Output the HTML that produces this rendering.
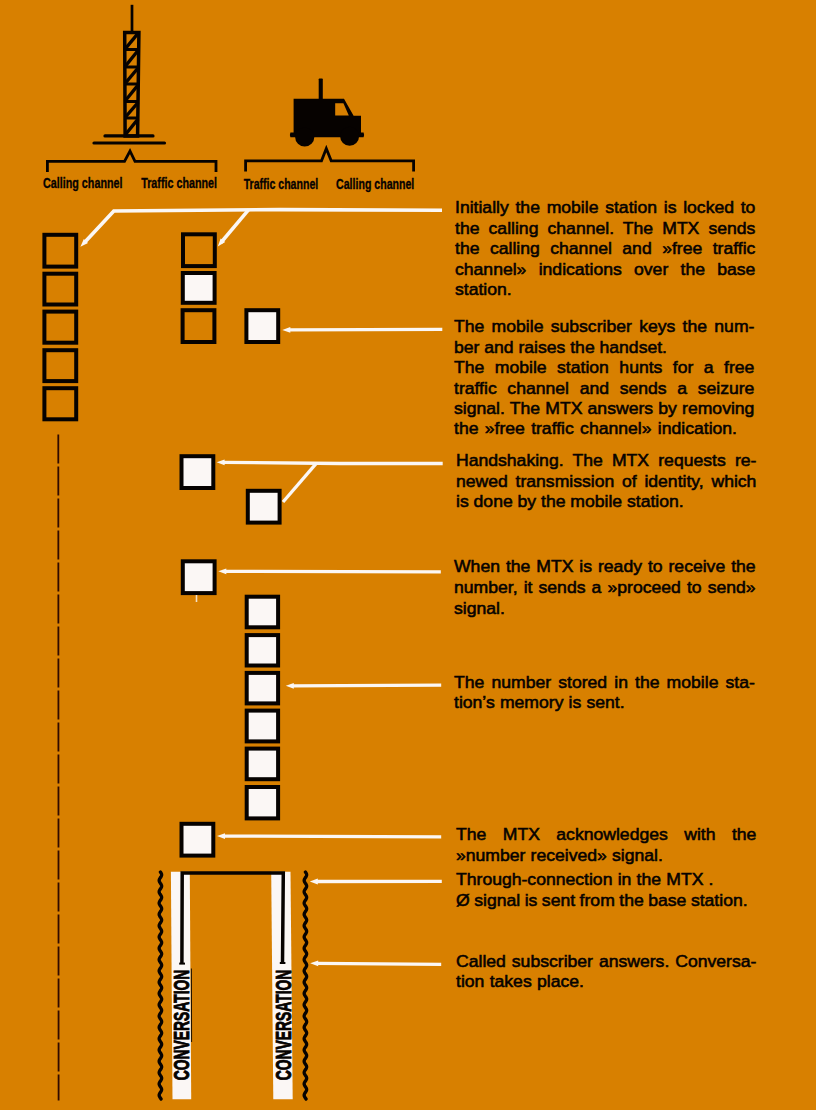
<!DOCTYPE html>
<html><head><meta charset="utf-8"><title>MTX call setup</title>
<style>
html,body{margin:0;padding:0;}
body{width:816px;height:1110px;background:#D88000;overflow:hidden;position:relative;font-family:"Liberation Sans",sans-serif;}
svg{position:absolute;left:0;top:0;}
.l{position:absolute;left:456.3px;font-size:16.4px;line-height:20px;height:20px;color:#060200;white-space:nowrap;transform:scaleX(1.073);transform-origin:0 0;-webkit-text-stroke:0.55px #060200;}
</style></head><body>
<svg width="816" height="1110" viewBox="0 0 816 1110">
<path d="M442.0 210.3 L280.0 209.6 L113.8 211.0 L84.5 242.5" fill="none" stroke="#FBF7F5" stroke-width="3.6" stroke-linejoin="miter"/>
<polygon points="80.4,246.8 88.0,243.0 83.8,239.0" fill="#FBF7F5"/>
<path d="M248.5 209.8 L221.0 242.5" fill="none" stroke="#FBF7F5" stroke-width="3.5" stroke-linejoin="miter"/>
<polygon points="217.8,246.4 225.2,242.1 220.7,238.4" fill="#FBF7F5"/>
<path d="M442.3 329.4 L289.3 329.9" fill="none" stroke="#FBF7F5" stroke-width="3.3" stroke-linejoin="miter"/><polygon points="282.3,329.9 290.3,332.8 290.3,327.0" fill="#FBF7F5"/>
<path d="M442.7 463.5 L340.0 463.5 L224.0 462.4" fill="none" stroke="#FBF7F5" stroke-width="3.3" stroke-linejoin="miter"/>
<polygon points="216.6,462.3 224.6,465.3 224.6,459.5" fill="#FBF7F5"/>
<path d="M316.3 463.3 L283.0 502.0" fill="none" stroke="#FBF7F5" stroke-width="3.3" stroke-linejoin="miter"/>
<path d="M440.8 571.8 L225.3 571.3" fill="none" stroke="#FBF7F5" stroke-width="3.3" stroke-linejoin="miter"/><polygon points="218.3,571.3 226.3,574.2 226.3,568.4" fill="#FBF7F5"/>
<path d="M441.2 685.2 L292.8 685.8" fill="none" stroke="#FBF7F5" stroke-width="3.3" stroke-linejoin="miter"/><polygon points="285.8,685.8 293.8,688.7 293.8,682.9" fill="#FBF7F5"/>
<path d="M441.2 836.9 L224.0 836.1" fill="none" stroke="#FBF7F5" stroke-width="3.3" stroke-linejoin="miter"/><polygon points="217.0,836.1 225.0,839.0 225.0,833.2" fill="#FBF7F5"/>
<path d="M441.8 881.3 L316.8 881.5" fill="none" stroke="#FBF7F5" stroke-width="3.3" stroke-linejoin="miter"/><polygon points="309.8,881.5 317.8,884.4 317.8,878.6" fill="#FBF7F5"/>
<path d="M441.2 964.3 L317.2 963.4" fill="none" stroke="#FBF7F5" stroke-width="3.3" stroke-linejoin="miter"/><polygon points="310.2,963.3 318.2,966.3 318.2,960.5" fill="#FBF7F5"/>
<rect x="44.40" y="234.80" width="31.80" height="31.80" fill="none" stroke="#060200" stroke-width="4.0"/>
<rect x="44.40" y="273.70" width="31.80" height="30.80" fill="none" stroke="#060200" stroke-width="4.0"/>
<rect x="44.40" y="311.60" width="31.80" height="31.10" fill="none" stroke="#060200" stroke-width="4.0"/>
<rect x="44.40" y="350.20" width="31.80" height="30.90" fill="none" stroke="#060200" stroke-width="4.0"/>
<rect x="44.40" y="388.20" width="31.80" height="31.10" fill="none" stroke="#060200" stroke-width="4.0"/>
<rect x="183.00" y="234.30" width="31.80" height="31.80" fill="none" stroke="#060200" stroke-width="4.0"/>
<rect x="182.80" y="273.00" width="31.80" height="29.80" fill="#FBF7F5" stroke="#060200" stroke-width="4.0"/>
<rect x="182.60" y="310.20" width="31.80" height="31.80" fill="none" stroke="#060200" stroke-width="4.0"/>
<rect x="246.40" y="310.20" width="31.80" height="31.80" fill="#FBF7F5" stroke="#060200" stroke-width="4.0"/>
<rect x="181.50" y="456.20" width="31.80" height="31.80" fill="#FBF7F5" stroke="#060200" stroke-width="4.0"/>
<rect x="247.80" y="490.80" width="31.80" height="31.80" fill="#FBF7F5" stroke="#060200" stroke-width="4.0"/>
<rect x="182.80" y="561.30" width="31.80" height="31.80" fill="#FBF7F5" stroke="#060200" stroke-width="4.0"/>
<rect x="246.70" y="596.70" width="31.40" height="30.60" fill="#FBF7F5" stroke="#060200" stroke-width="4.0"/>
<rect x="246.70" y="635.10" width="31.40" height="30.40" fill="#FBF7F5" stroke="#060200" stroke-width="4.0"/>
<rect x="246.70" y="672.90" width="31.40" height="30.50" fill="#FBF7F5" stroke="#060200" stroke-width="4.0"/>
<rect x="246.70" y="710.60" width="31.40" height="30.80" fill="#FBF7F5" stroke="#060200" stroke-width="4.0"/>
<rect x="246.70" y="748.60" width="31.40" height="30.60" fill="#FBF7F5" stroke="#060200" stroke-width="4.0"/>
<rect x="246.70" y="787.00" width="31.40" height="31.40" fill="#FBF7F5" stroke="#060200" stroke-width="4.0"/>
<line x1="196.5" y1="595" x2="196.5" y2="602" stroke="#FBF7F5" stroke-width="1.6" opacity="0.8"/>
<rect x="181.50" y="823.80" width="31.80" height="31.80" fill="#FBF7F5" stroke="#060200" stroke-width="4.0"/>
<line x1="58.3" y1="434.4" x2="58.6" y2="1100.5" stroke="#300a00" stroke-width="1.8" stroke-dasharray="29 3"/>
<polygon points="170.9,871.8 189.8,871.8 191.2,1099.3 172.5,1099.3" fill="#FBF7F5"/>
<polygon points="271.2,871.8 290.5,871.8 292.7,1099.3 273.3,1099.3" fill="#FBF7F5"/>
<path d="M181.9 964 L182.2 873 L283.3 873 L282.5 963" fill="none" stroke="#060200" stroke-width="3.5" stroke-linejoin="miter"/>
<line x1="179.2" y1="963.6" x2="185" y2="963.6" stroke="#060200" stroke-width="2"/>
<line x1="279.8" y1="963" x2="285.4" y2="963" stroke="#060200" stroke-width="2"/>
<path d="M160.40 872.0 L160.74 872.5 L161.06 873.0 L161.33 873.5 L161.52 874.0 L161.63 874.5 L161.64 875.0 L161.56 875.5 L161.39 876.0 L161.15 876.5 L160.84 877.0 L160.50 877.5 L160.16 878.0 L159.83 878.5 L159.55 879.0 L159.33 879.5 L159.19 880.0 L159.15 880.5 L159.20 881.0 L159.35 881.5 L159.57 882.0 L159.86 882.5 L160.19 883.0 L160.54 883.5 L160.87 884.0 L161.17 884.5 L161.41 885.0 L161.58 885.5 L161.65 886.0 L161.62 886.5 L161.50 887.0 L161.30 887.5 L161.03 888.0 L160.71 888.5 L160.37 889.0 L160.02 889.5 L159.71 890.0 L159.45 890.5 L159.26 891.0 L159.16 891.5 L159.16 892.0 L159.25 892.5 L159.43 893.0 L159.68 893.5 L159.99 894.0 L160.33 894.5 L160.68 895.0 L161.00 895.5 L161.28 896.0 L161.49 896.5 L161.62 897.0 L161.65 897.5 L161.59 898.0 L161.43 898.5 L161.20 899.0 L160.91 899.5 L160.57 900.0 L160.23 900.5 L159.89 901.0 L159.60 901.5 L159.37 902.0 L159.21 902.5 L159.15 903.0 L159.18 903.5 L159.31 904.0 L159.52 904.5 L159.80 905.0 L160.12 905.5 L160.47 906.0 L160.81 906.5 L161.12 907.0 L161.37 907.5 L161.55 908.0 L161.64 908.5 L161.64 909.0 L161.54 909.5 L161.35 910.0 L161.09 910.5 L160.78 911.0 L160.43 911.5 L160.09 912.0 L159.77 912.5 L159.50 913.0 L159.30 913.5 L159.18 914.0 L159.15 914.5 L159.22 915.0 L159.39 915.5 L159.63 916.0 L159.93 916.5 L160.26 917.0 L160.61 917.5 L160.94 918.0 L161.23 918.5 L161.45 919.0 L161.60 919.5 L161.65 920.0 L161.61 920.5 L161.47 921.0 L161.25 921.5 L160.97 922.0 L160.64 922.5 L160.30 923.0 L159.96 923.5 L159.65 924.0 L159.41 924.5 L159.24 925.0 L159.16 925.5 L159.17 926.0 L159.28 926.5 L159.47 927.0 L159.74 927.5 L160.06 928.0 L160.40 928.5 L160.74 929.0 L161.06 929.5 L161.33 930.0 L161.52 930.5 L161.63 931.0 L161.64 931.5 L161.56 932.0 L161.39 932.5 L161.15 933.0 L160.84 933.5 L160.50 934.0 L160.16 934.5 L159.83 935.0 L159.55 935.5 L159.33 936.0 L159.19 936.5 L159.15 937.0 L159.20 937.5 L159.35 938.0 L159.57 938.5 L159.86 939.0 L160.19 939.5 L160.54 940.0 L160.87 940.5 L161.17 941.0 L161.41 941.5 L161.58 942.0 L161.65 942.5 L161.62 943.0 L161.50 943.5 L161.30 944.0 L161.03 944.5 L160.71 945.0 L160.37 945.5 L160.02 946.0 L159.71 946.5 L159.45 947.0 L159.26 947.5 L159.16 948.0 L159.16 948.5 L159.25 949.0 L159.43 949.5 L159.68 950.0 L159.99 950.5 L160.33 951.0 L160.68 951.5 L161.00 952.0 L161.28 952.5 L161.49 953.0 L161.62 953.5 L161.65 954.0 L161.59 954.5 L161.43 955.0 L161.20 955.5 L160.91 956.0 L160.57 956.5 L160.23 957.0 L159.89 957.5 L159.60 958.0 L159.37 958.5 L159.21 959.0 L159.15 959.5 L159.18 960.0 L159.31 960.5 L159.52 961.0 L159.80 961.5 L160.12 962.0 L160.47 962.5 L160.81 963.0 L161.12 963.5 L161.37 964.0 L161.55 964.5 L161.64 965.0 L161.64 965.5 L161.54 966.0 L161.35 966.5 L161.09 967.0 L160.78 967.5 L160.43 968.0 L160.09 968.5 L159.77 969.0 L159.50 969.5 L159.30 970.0 L159.18 970.5 L159.15 971.0 L159.22 971.5 L159.39 972.0 L159.63 972.5 L159.93 973.0 L160.26 973.5 L160.61 974.0 L160.94 974.5 L161.23 975.0 L161.45 975.5 L161.60 976.0 L161.65 976.5 L161.61 977.0 L161.47 977.5 L161.25 978.0 L160.97 978.5 L160.64 979.0 L160.30 979.5 L159.96 980.0 L159.65 980.5 L159.41 981.0 L159.24 981.5 L159.16 982.0 L159.17 982.5 L159.28 983.0 L159.47 983.5 L159.74 984.0 L160.06 984.5 L160.40 985.0 L160.74 985.5 L161.06 986.0 L161.33 986.5 L161.52 987.0 L161.63 987.5 L161.64 988.0 L161.56 988.5 L161.39 989.0 L161.15 989.5 L160.84 990.0 L160.50 990.5 L160.16 991.0 L159.83 991.5 L159.55 992.0 L159.33 992.5 L159.19 993.0 L159.15 993.5 L159.20 994.0 L159.35 994.5 L159.57 995.0 L159.86 995.5 L160.19 996.0 L160.54 996.5 L160.87 997.0 L161.17 997.5 L161.41 998.0 L161.58 998.5 L161.65 999.0 L161.62 999.5 L161.50 1000.0 L161.30 1000.5 L161.03 1001.0 L160.71 1001.5 L160.37 1002.0 L160.02 1002.5 L159.71 1003.0 L159.45 1003.5 L159.26 1004.0 L159.16 1004.5 L159.16 1005.0 L159.25 1005.5 L159.43 1006.0 L159.68 1006.5 L159.99 1007.0 L160.33 1007.5 L160.68 1008.0 L161.00 1008.5 L161.28 1009.0 L161.49 1009.5 L161.62 1010.0 L161.65 1010.5 L161.59 1011.0 L161.43 1011.5 L161.20 1012.0 L160.91 1012.5 L160.57 1013.0 L160.23 1013.5 L159.89 1014.0 L159.60 1014.5 L159.37 1015.0 L159.21 1015.5 L159.15 1016.0 L159.18 1016.5 L159.31 1017.0 L159.52 1017.5 L159.80 1018.0 L160.12 1018.5 L160.47 1019.0 L160.81 1019.5 L161.12 1020.0 L161.37 1020.5 L161.55 1021.0 L161.64 1021.5 L161.64 1022.0 L161.54 1022.5 L161.35 1023.0 L161.09 1023.5 L160.78 1024.0 L160.43 1024.5 L160.09 1025.0 L159.77 1025.5 L159.50 1026.0 L159.30 1026.5 L159.18 1027.0 L159.15 1027.5 L159.22 1028.0 L159.39 1028.5 L159.63 1029.0 L159.93 1029.5 L160.26 1030.0 L160.61 1030.5 L160.94 1031.0 L161.23 1031.5 L161.45 1032.0 L161.60 1032.5 L161.65 1033.0 L161.61 1033.5 L161.47 1034.0 L161.25 1034.5 L160.97 1035.0 L160.64 1035.5 L160.30 1036.0 L159.96 1036.5 L159.65 1037.0 L159.41 1037.5 L159.24 1038.0 L159.16 1038.5 L159.17 1039.0 L159.28 1039.5 L159.47 1040.0 L159.74 1040.5 L160.06 1041.0 L160.40 1041.5 L160.74 1042.0 L161.06 1042.5 L161.33 1043.0 L161.52 1043.5 L161.63 1044.0 L161.64 1044.5 L161.56 1045.0 L161.39 1045.5 L161.15 1046.0 L160.84 1046.5 L160.50 1047.0 L160.16 1047.5 L159.83 1048.0 L159.55 1048.5 L159.33 1049.0 L159.19 1049.5 L159.15 1050.0 L159.20 1050.5 L159.35 1051.0 L159.57 1051.5 L159.86 1052.0 L160.19 1052.5 L160.54 1053.0 L160.87 1053.5 L161.17 1054.0 L161.41 1054.5 L161.58 1055.0 L161.65 1055.5 L161.62 1056.0 L161.50 1056.5 L161.30 1057.0 L161.03 1057.5 L160.71 1058.0 L160.37 1058.5 L160.02 1059.0 L159.71 1059.5 L159.45 1060.0 L159.26 1060.5 L159.16 1061.0 L159.16 1061.5 L159.25 1062.0 L159.43 1062.5 L159.68 1063.0 L159.99 1063.5 L160.33 1064.0 L160.68 1064.5 L161.00 1065.0 L161.28 1065.5 L161.49 1066.0 L161.62 1066.5 L161.65 1067.0 L161.59 1067.5 L161.43 1068.0 L161.20 1068.5 L160.91 1069.0 L160.57 1069.5 L160.23 1070.0 L159.89 1070.5 L159.60 1071.0 L159.37 1071.5 L159.21 1072.0 L159.15 1072.5 L159.18 1073.0 L159.31 1073.5 L159.52 1074.0 L159.80 1074.5 L160.12 1075.0 L160.47 1075.5 L160.81 1076.0 L161.12 1076.5 L161.37 1077.0 L161.55 1077.5 L161.64 1078.0 L161.64 1078.5 L161.54 1079.0 L161.35 1079.5 L161.09 1080.0 L160.78 1080.5 L160.43 1081.0 L160.09 1081.5 L159.77 1082.0 L159.50 1082.5 L159.30 1083.0 L159.18 1083.5 L159.15 1084.0 L159.22 1084.5 L159.39 1085.0 L159.63 1085.5 L159.93 1086.0 L160.26 1086.5 L160.61 1087.0 L160.94 1087.5 L161.23 1088.0 L161.45 1088.5 L161.60 1089.0 L161.65 1089.5 L161.61 1090.0 L161.47 1090.5 L161.25 1091.0 L160.97 1091.5 L160.64 1092.0 L160.30 1092.5 L159.96 1093.0 L159.65 1093.5 L159.41 1094.0 L159.24 1094.5 L159.16 1095.0 L159.17 1095.5 L159.28 1096.0 L159.47 1096.5 L159.74 1097.0 L160.06 1097.5 L160.40 1098.0 L160.74 1098.5 L161.06 1099.0" fill="none" stroke="#060200" stroke-width="3.3" stroke-linecap="round"/>
<path d="M305.40 872.0 L305.74 872.5 L306.06 873.0 L306.33 873.5 L306.52 874.0 L306.63 874.5 L306.64 875.0 L306.56 875.5 L306.39 876.0 L306.15 876.5 L305.84 877.0 L305.50 877.5 L305.16 878.0 L304.83 878.5 L304.55 879.0 L304.33 879.5 L304.19 880.0 L304.15 880.5 L304.20 881.0 L304.35 881.5 L304.57 882.0 L304.86 882.5 L305.19 883.0 L305.54 883.5 L305.87 884.0 L306.17 884.5 L306.41 885.0 L306.58 885.5 L306.65 886.0 L306.62 886.5 L306.50 887.0 L306.30 887.5 L306.03 888.0 L305.71 888.5 L305.37 889.0 L305.02 889.5 L304.71 890.0 L304.45 890.5 L304.26 891.0 L304.16 891.5 L304.16 892.0 L304.25 892.5 L304.43 893.0 L304.68 893.5 L304.99 894.0 L305.33 894.5 L305.68 895.0 L306.00 895.5 L306.28 896.0 L306.49 896.5 L306.62 897.0 L306.65 897.5 L306.59 898.0 L306.43 898.5 L306.20 899.0 L305.91 899.5 L305.57 900.0 L305.23 900.5 L304.89 901.0 L304.60 901.5 L304.37 902.0 L304.21 902.5 L304.15 903.0 L304.18 903.5 L304.31 904.0 L304.52 904.5 L304.80 905.0 L305.12 905.5 L305.47 906.0 L305.81 906.5 L306.12 907.0 L306.37 907.5 L306.55 908.0 L306.64 908.5 L306.64 909.0 L306.54 909.5 L306.35 910.0 L306.09 910.5 L305.78 911.0 L305.43 911.5 L305.09 912.0 L304.77 912.5 L304.50 913.0 L304.30 913.5 L304.18 914.0 L304.15 914.5 L304.22 915.0 L304.39 915.5 L304.63 916.0 L304.93 916.5 L305.26 917.0 L305.61 917.5 L305.94 918.0 L306.23 918.5 L306.45 919.0 L306.60 919.5 L306.65 920.0 L306.61 920.5 L306.47 921.0 L306.25 921.5 L305.97 922.0 L305.64 922.5 L305.30 923.0 L304.96 923.5 L304.65 924.0 L304.41 924.5 L304.24 925.0 L304.16 925.5 L304.17 926.0 L304.28 926.5 L304.47 927.0 L304.74 927.5 L305.06 928.0 L305.40 928.5 L305.74 929.0 L306.06 929.5 L306.33 930.0 L306.52 930.5 L306.63 931.0 L306.64 931.5 L306.56 932.0 L306.39 932.5 L306.15 933.0 L305.84 933.5 L305.50 934.0 L305.16 934.5 L304.83 935.0 L304.55 935.5 L304.33 936.0 L304.19 936.5 L304.15 937.0 L304.20 937.5 L304.35 938.0 L304.57 938.5 L304.86 939.0 L305.19 939.5 L305.54 940.0 L305.87 940.5 L306.17 941.0 L306.41 941.5 L306.58 942.0 L306.65 942.5 L306.62 943.0 L306.50 943.5 L306.30 944.0 L306.03 944.5 L305.71 945.0 L305.37 945.5 L305.02 946.0 L304.71 946.5 L304.45 947.0 L304.26 947.5 L304.16 948.0 L304.16 948.5 L304.25 949.0 L304.43 949.5 L304.68 950.0 L304.99 950.5 L305.33 951.0 L305.68 951.5 L306.00 952.0 L306.28 952.5 L306.49 953.0 L306.62 953.5 L306.65 954.0 L306.59 954.5 L306.43 955.0 L306.20 955.5 L305.91 956.0 L305.57 956.5 L305.23 957.0 L304.89 957.5 L304.60 958.0 L304.37 958.5 L304.21 959.0 L304.15 959.5 L304.18 960.0 L304.31 960.5 L304.52 961.0 L304.80 961.5 L305.12 962.0 L305.47 962.5 L305.81 963.0 L306.12 963.5 L306.37 964.0 L306.55 964.5 L306.64 965.0 L306.64 965.5 L306.54 966.0 L306.35 966.5 L306.09 967.0 L305.78 967.5 L305.43 968.0 L305.09 968.5 L304.77 969.0 L304.50 969.5 L304.30 970.0 L304.18 970.5 L304.15 971.0 L304.22 971.5 L304.39 972.0 L304.63 972.5 L304.93 973.0 L305.26 973.5 L305.61 974.0 L305.94 974.5 L306.23 975.0 L306.45 975.5 L306.60 976.0 L306.65 976.5 L306.61 977.0 L306.47 977.5 L306.25 978.0 L305.97 978.5 L305.64 979.0 L305.30 979.5 L304.96 980.0 L304.65 980.5 L304.41 981.0 L304.24 981.5 L304.16 982.0 L304.17 982.5 L304.28 983.0 L304.47 983.5 L304.74 984.0 L305.06 984.5 L305.40 985.0 L305.74 985.5 L306.06 986.0 L306.33 986.5 L306.52 987.0 L306.63 987.5 L306.64 988.0 L306.56 988.5 L306.39 989.0 L306.15 989.5 L305.84 990.0 L305.50 990.5 L305.16 991.0 L304.83 991.5 L304.55 992.0 L304.33 992.5 L304.19 993.0 L304.15 993.5 L304.20 994.0 L304.35 994.5 L304.57 995.0 L304.86 995.5 L305.19 996.0 L305.54 996.5 L305.87 997.0 L306.17 997.5 L306.41 998.0 L306.58 998.5 L306.65 999.0 L306.62 999.5 L306.50 1000.0 L306.30 1000.5 L306.03 1001.0 L305.71 1001.5 L305.37 1002.0 L305.02 1002.5 L304.71 1003.0 L304.45 1003.5 L304.26 1004.0 L304.16 1004.5 L304.16 1005.0 L304.25 1005.5 L304.43 1006.0 L304.68 1006.5 L304.99 1007.0 L305.33 1007.5 L305.68 1008.0 L306.00 1008.5 L306.28 1009.0 L306.49 1009.5 L306.62 1010.0 L306.65 1010.5 L306.59 1011.0 L306.43 1011.5 L306.20 1012.0 L305.91 1012.5 L305.57 1013.0 L305.23 1013.5 L304.89 1014.0 L304.60 1014.5 L304.37 1015.0 L304.21 1015.5 L304.15 1016.0 L304.18 1016.5 L304.31 1017.0 L304.52 1017.5 L304.80 1018.0 L305.12 1018.5 L305.47 1019.0 L305.81 1019.5 L306.12 1020.0 L306.37 1020.5 L306.55 1021.0 L306.64 1021.5 L306.64 1022.0 L306.54 1022.5 L306.35 1023.0 L306.09 1023.5 L305.78 1024.0 L305.43 1024.5 L305.09 1025.0 L304.77 1025.5 L304.50 1026.0 L304.30 1026.5 L304.18 1027.0 L304.15 1027.5 L304.22 1028.0 L304.39 1028.5 L304.63 1029.0 L304.93 1029.5 L305.26 1030.0 L305.61 1030.5 L305.94 1031.0 L306.23 1031.5 L306.45 1032.0 L306.60 1032.5 L306.65 1033.0 L306.61 1033.5 L306.47 1034.0 L306.25 1034.5 L305.97 1035.0 L305.64 1035.5 L305.30 1036.0 L304.96 1036.5 L304.65 1037.0 L304.41 1037.5 L304.24 1038.0 L304.16 1038.5 L304.17 1039.0 L304.28 1039.5 L304.47 1040.0 L304.74 1040.5 L305.06 1041.0 L305.40 1041.5 L305.74 1042.0 L306.06 1042.5 L306.33 1043.0 L306.52 1043.5 L306.63 1044.0 L306.64 1044.5 L306.56 1045.0 L306.39 1045.5 L306.15 1046.0 L305.84 1046.5 L305.50 1047.0 L305.16 1047.5 L304.83 1048.0 L304.55 1048.5 L304.33 1049.0 L304.19 1049.5 L304.15 1050.0 L304.20 1050.5 L304.35 1051.0 L304.57 1051.5 L304.86 1052.0 L305.19 1052.5 L305.54 1053.0 L305.87 1053.5 L306.17 1054.0 L306.41 1054.5 L306.58 1055.0 L306.65 1055.5 L306.62 1056.0 L306.50 1056.5 L306.30 1057.0 L306.03 1057.5 L305.71 1058.0 L305.37 1058.5 L305.02 1059.0 L304.71 1059.5 L304.45 1060.0 L304.26 1060.5 L304.16 1061.0 L304.16 1061.5 L304.25 1062.0 L304.43 1062.5 L304.68 1063.0 L304.99 1063.5 L305.33 1064.0 L305.68 1064.5 L306.00 1065.0 L306.28 1065.5 L306.49 1066.0 L306.62 1066.5 L306.65 1067.0 L306.59 1067.5 L306.43 1068.0 L306.20 1068.5 L305.91 1069.0 L305.57 1069.5 L305.23 1070.0 L304.89 1070.5 L304.60 1071.0 L304.37 1071.5 L304.21 1072.0 L304.15 1072.5 L304.18 1073.0 L304.31 1073.5 L304.52 1074.0 L304.80 1074.5 L305.12 1075.0 L305.47 1075.5 L305.81 1076.0 L306.12 1076.5 L306.37 1077.0 L306.55 1077.5 L306.64 1078.0 L306.64 1078.5 L306.54 1079.0 L306.35 1079.5 L306.09 1080.0 L305.78 1080.5 L305.43 1081.0 L305.09 1081.5 L304.77 1082.0 L304.50 1082.5 L304.30 1083.0 L304.18 1083.5 L304.15 1084.0 L304.22 1084.5 L304.39 1085.0 L304.63 1085.5 L304.93 1086.0 L305.26 1086.5 L305.61 1087.0 L305.94 1087.5 L306.23 1088.0 L306.45 1088.5 L306.60 1089.0 L306.65 1089.5 L306.61 1090.0 L306.47 1090.5 L306.25 1091.0 L305.97 1091.5 L305.64 1092.0 L305.30 1092.5 L304.96 1093.0 L304.65 1093.5 L304.41 1094.0 L304.24 1094.5 L304.16 1095.0 L304.17 1095.5 L304.28 1096.0 L304.47 1096.5 L304.74 1097.0 L305.06 1097.5 L305.40 1098.0 L305.74 1098.5 L306.06 1099.0" fill="none" stroke="#060200" stroke-width="3.3" stroke-linecap="round"/>
<text transform="translate(189.0,1080.3) rotate(-90)" font-family="Liberation Sans, sans-serif" font-weight="bold" font-size="21.2" fill="#060200" stroke="#060200" stroke-width="0.9" textLength="110.6" lengthAdjust="spacingAndGlyphs">CONVERSATION</text>
<text transform="translate(291.3,1080.3) rotate(-90)" font-family="Liberation Sans, sans-serif" font-weight="bold" font-size="21.2" fill="#060200" stroke="#060200" stroke-width="0.9" textLength="110.6" lengthAdjust="spacingAndGlyphs">CONVERSATION</text>
<line x1="191.4" y1="968.5" x2="191.6" y2="1042" stroke="#060200" stroke-width="0.9"/>
<line x1="132" y1="4.8" x2="132" y2="32" stroke="#060200" stroke-width="2.7"/>
<path d="M124.7 32.4 L138.9 32.4 L137.6 136 L125.1 136 Z" fill="none" stroke="#060200" stroke-width="3.5"/>
<line x1="125.5" y1="48.5" x2="138" y2="33.4" stroke="#060200" stroke-width="3.4"/>
<line x1="124.5" y1="49.5" x2="139" y2="49.5" stroke="#060200" stroke-width="3"/>
<line x1="125.5" y1="66" x2="138" y2="50.5" stroke="#060200" stroke-width="3.4"/>
<line x1="124.5" y1="67" x2="139" y2="67" stroke="#060200" stroke-width="3"/>
<line x1="125.5" y1="83" x2="138" y2="68" stroke="#060200" stroke-width="3.4"/>
<line x1="124.5" y1="84" x2="139" y2="84" stroke="#060200" stroke-width="3"/>
<line x1="125.5" y1="100.5" x2="138" y2="85" stroke="#060200" stroke-width="3.4"/>
<line x1="124.5" y1="101.5" x2="139" y2="101.5" stroke="#060200" stroke-width="3"/>
<line x1="125.5" y1="117" x2="138" y2="102.5" stroke="#060200" stroke-width="3.4"/>
<line x1="124.5" y1="118" x2="139" y2="118" stroke="#060200" stroke-width="3"/>
<line x1="125.5" y1="134.5" x2="138" y2="119" stroke="#060200" stroke-width="3.4"/>
<line x1="105" y1="135.9" x2="153" y2="135.9" stroke="#060200" stroke-width="3.2" stroke-linecap="round"/>
<line x1="94" y1="143" x2="164.5" y2="143" stroke="#060200" stroke-width="3.2" stroke-linecap="round"/>
<path d="M47.4 172 L47.4 161.3 L124.5 161.3 L130 151 L135 161.3 L216 161.3 L216 172" fill="none" stroke="#060200" stroke-width="2.8" stroke-linejoin="miter"/>
<path d="M245.6 171.5 L245.6 160.8 L321.5 160.8 L326.3 148.5 L331.2 160.8 L413.6 160.8 L413.6 171.5" fill="none" stroke="#060200" stroke-width="2.8" stroke-linejoin="miter"/>
<rect x="318.7" y="78.4" width="4.1" height="22" rx="0.8" fill="#060200"/>
<path d="M293.6 98.8 L344 98.8 L353.6 115.8 L361 115.8 L361 132.6 L363.6 132.6 Q364.6 135 363.6 137.3 L290.4 137.3 Q289.4 135 290.4 132.6 L293.6 132.6 Z" fill="#060200"/>
<circle cx="304.7" cy="137" r="9.6" fill="#060200"/>
<circle cx="349.6" cy="136.2" r="9.5" fill="#060200"/>
<path d="M335.2 103.2 L343.4 103.2 L348.8 115.4 L335.2 115.4 Z" fill="#D88000"/>
<text x="43" y="187.8" font-family="Liberation Sans, sans-serif" font-weight="bold" font-size="15.3" fill="#060200" stroke="#060200" stroke-width="0.35" textLength="79.5" lengthAdjust="spacingAndGlyphs">Calling channel</text>
<text x="141.2" y="187.8" font-family="Liberation Sans, sans-serif" font-weight="bold" font-size="15.3" fill="#060200" stroke="#060200" stroke-width="0.35" textLength="75.8" lengthAdjust="spacingAndGlyphs">Traffic channel</text>
<text x="243.7" y="188.6" font-family="Liberation Sans, sans-serif" font-weight="bold" font-size="15.3" fill="#060200" stroke="#060200" stroke-width="0.35" textLength="74.5" lengthAdjust="spacingAndGlyphs">Traffic channel</text>
<text x="336.1" y="188.6" font-family="Liberation Sans, sans-serif" font-weight="bold" font-size="15.3" fill="#060200" stroke="#060200" stroke-width="0.35" textLength="78.2" lengthAdjust="spacingAndGlyphs">Calling channel</text>
</svg>
<div class="l" style="top:196.80px;left:454.9px;word-spacing:1.715px;">Initially the mobile station is locked to</div>
<div class="l" style="top:217.50px;left:454.9px;word-spacing:3.936px;">the calling channel. The MTX sends</div>
<div class="l" style="top:238.20px;left:454.9px;word-spacing:5.208px;">the calling channel and »free traffic</div>
<div class="l" style="top:258.80px;left:454.9px;word-spacing:6.889px;">channel» indications over the base</div>
<div class="l" style="top:279.30px;left:454.9px;">station.</div>
<div class="l" style="top:316.10px;left:453.7px;word-spacing:2.246px;">The mobile subscriber keys the num-</div>
<div class="l" style="top:336.50px;left:453.7px;word-spacing:-0.033px;">ber and raises the handset.</div>
<div class="l" style="top:357.30px;left:453.7px;word-spacing:5.205px;">The mobile station hunts for a free</div>
<div class="l" style="top:377.50px;left:453.7px;word-spacing:5.393px;">traffic channel and sends a seizure</div>
<div class="l" style="top:398.10px;left:453.7px;word-spacing:0.302px;">signal. The MTX answers by removing</div>
<div class="l" style="top:418.40px;left:453.7px;word-spacing:1.316px;">the »free traffic channel» indication.</div>
<div class="l" style="top:450.10px;word-spacing:4.014px;">Handshaking. The MTX requests re-</div>
<div class="l" style="top:470.60px;word-spacing:2.651px;">newed transmission of identity, which</div>
<div class="l" style="top:491.30px;word-spacing:-0.018px;">is done by the mobile station.</div>
<div class="l" style="top:555.90px;left:454.1px;word-spacing:0.980px;">When the MTX is ready to receive the</div>
<div class="l" style="top:577.40px;left:454.1px;word-spacing:1.133px;">number, it sends a »proceed to send»</div>
<div class="l" style="top:597.90px;left:454.1px;">signal.</div>
<div class="l" style="top:671.50px;left:454.3px;word-spacing:2.095px;">The number stored in the mobile sta-</div>
<div class="l" style="top:691.70px;left:454.3px;word-spacing:0.263px;">tion’s memory is sent.</div>
<div class="l" style="top:824.30px;word-spacing:10.772px;">The MTX acknowledges with the</div>
<div class="l" style="top:844.60px;word-spacing:0.287px;">»number received» signal.</div>
<div class="l" style="top:868.90px;word-spacing:0.320px;">Through-connection in the MTX .</div>
<div class="l" style="top:890.30px;word-spacing:-0.353px;">Ø signal is sent from the base station.</div>
<div class="l" style="top:951.10px;word-spacing:1.008px;">Called subscriber answers. Conversa-</div>
<div class="l" style="top:971.10px;word-spacing:0.373px;">tion takes place.</div>
</body></html>
